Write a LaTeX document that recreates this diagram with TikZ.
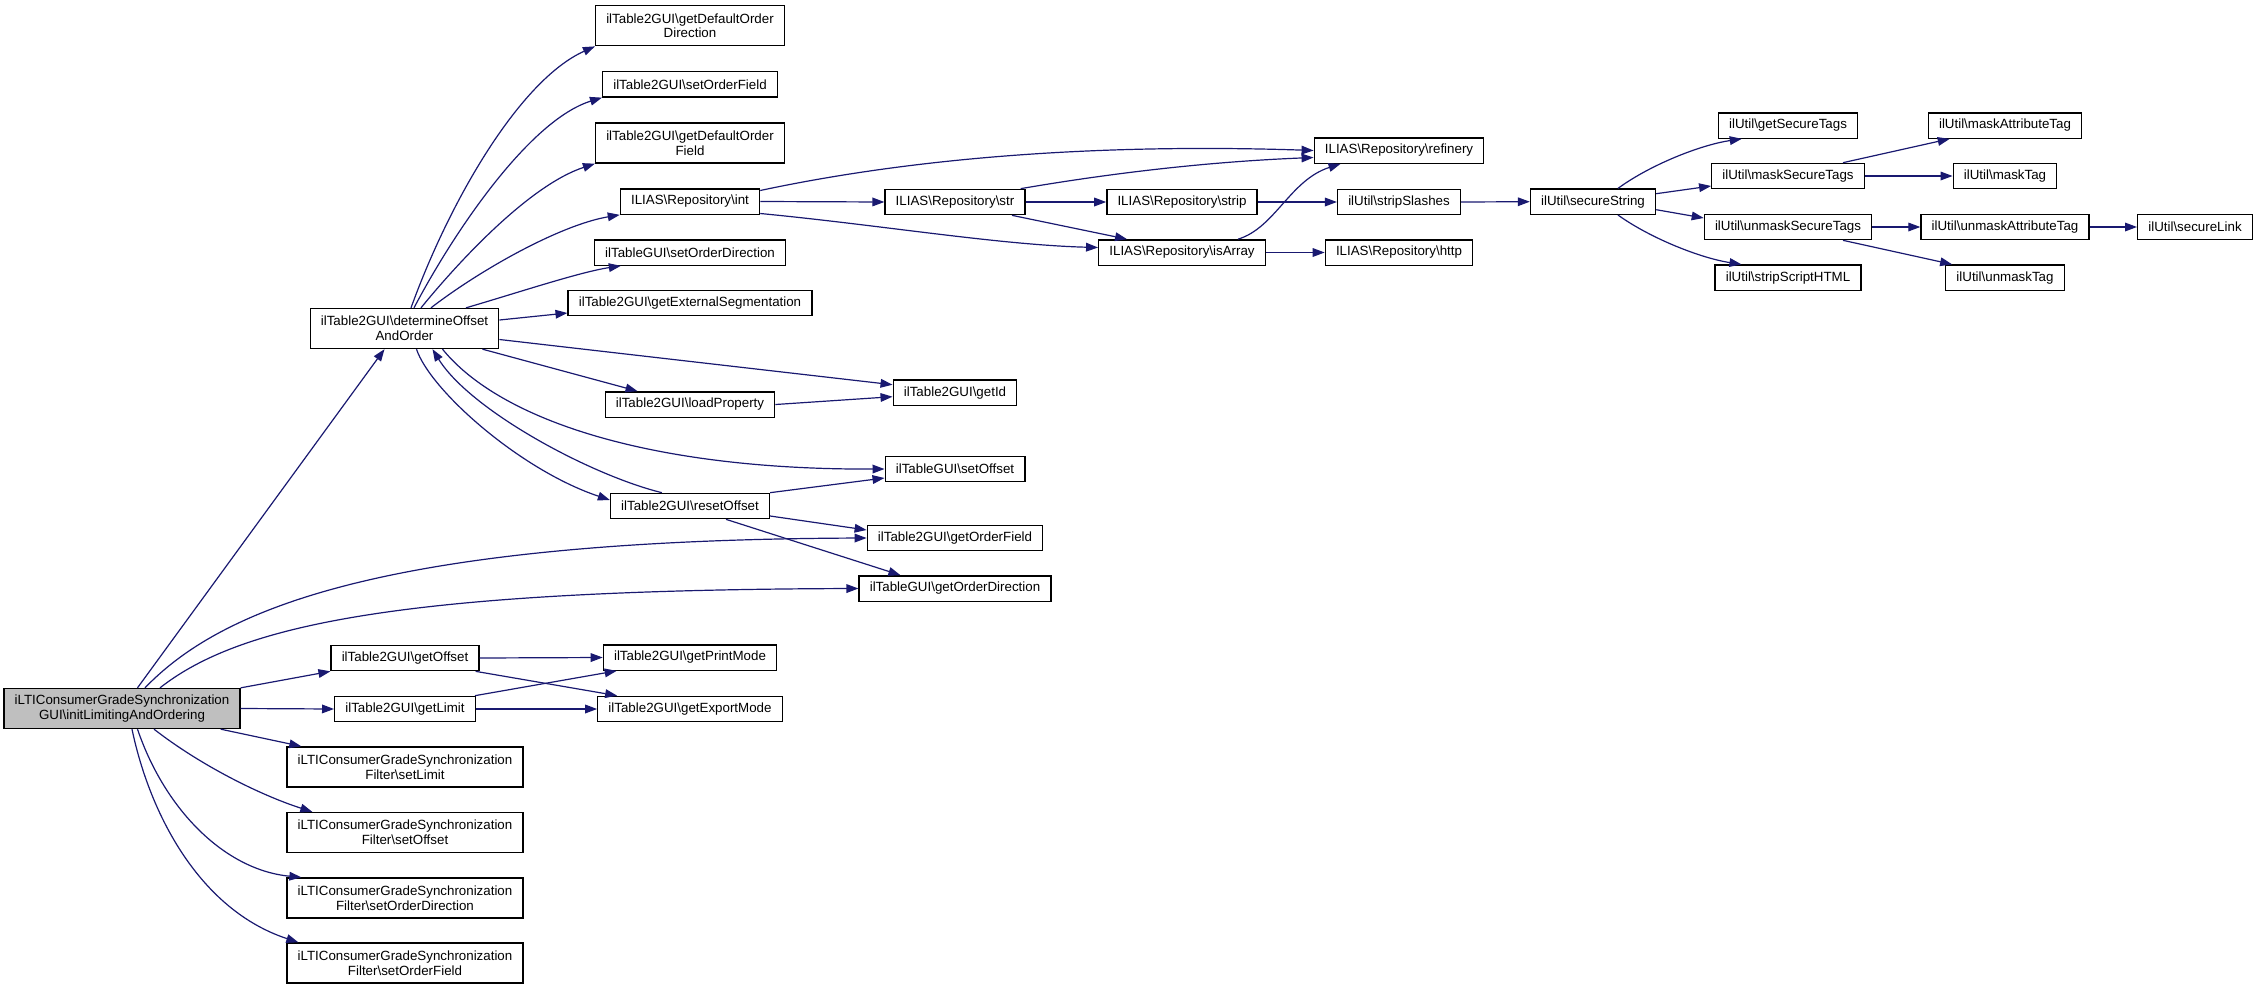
\documentclass[tikz,border=0pt]{standalone}
\usepackage{fontspec}
\setmainfont{Liberation Sans}
\usetikzlibrary{arrows.meta,calc}
\definecolor{callblue}{HTML}{191970}
\definecolor{rootgray}{HTML}{BFBFBF}
\newcommand{\bsl}{\textbackslash}
\tikzset{
	fn/.style={draw=black, line width=1pt, fill=white, font=\fontsize{10}{11}\selectfont, inner xsep=8pt, inner ysep=2pt, minimum height=19pt, align=center},
	fntwo/.style={fn, minimum height=30pt},
	callarrow/.style={draw=callblue, line width=0.9pt, -{Triangle[length=9pt,width=6.5pt]}}
}
\begin{document}
\begin{tikzpicture}[x=0.75pt, y=-0.75pt]
		\useasboundingbox (0,0) rectangle (2257,989);
		%caller
		\node[fntwo, fill=rootgray] (root) at (122,708.5) {iLTIConsumerGradeSynchronization\\GUI\bsl initLimitingAndOrdering};
		
		%second rank
		\node[fntwo] (det) at (404.5,328.5) {ilTable2GUI\bsl determineOffset\\AndOrder};
		\node[fn] (getoffset) at (405,658) {ilTable2GUI\bsl getOffset};
		\node[fn] (getlimit) at (405,709) {ilTable2GUI\bsl getLimit};
		\node[fntwo] (flimit) at (405,767) {iLTIConsumerGradeSynchronization\\Filter\bsl setLimit};
		\node[fntwo] (foffset) at (405,832.5) {iLTIConsumerGradeSynchronization\\Filter\bsl setOffset};
		\node[fntwo] (fodir) at (405,898) {iLTIConsumerGradeSynchronization\\Filter\bsl setOrderDirection};
		\node[fntwo] (fofield) at (405,963) {iLTIConsumerGradeSynchronization\\Filter\bsl setOrderField};
		
		%third rank
		\node[fntwo] (gdodir) at (690,25.7) {ilTable2GUI\bsl getDefaultOrder\\Direction};
		\node[fn] (sofield) at (690,84.3) {ilTable2GUI\bsl setOrderField};
		\node[fntwo] (gdofield) at (690,143) {ilTable2GUI\bsl getDefaultOrder\\Field};
		\node[fn] (rint) at (690,201.5) {ILIAS\bsl Repository\bsl int};
		\node[fn] (sodir) at (690,252.5) {ilTableGUI\bsl setOrderDirection};
		\node[fn] (gextseg) at (690,303) {ilTable2GUI\bsl getExternalSegmentation};
		\node[fn] (loadprop) at (690,404.5) {ilTable2GUI\bsl loadProperty};
		\node[fn] (reset) at (690,506) {ilTable2GUI\bsl resetOffset};
		\node[fn] (printmode) at (690,657.5) {ilTable2GUI\bsl getPrintMode};
		\node[fn] (exportmode) at (690,709) {ilTable2GUI\bsl getExportMode};
		
		%fourth rank
		\node[fn] (rstr) at (955,202) {ILIAS\bsl Repository\bsl str};
		\node[fn] (getid) at (955,392.7) {ilTable2GUI\bsl getId};
		\node[fn] (setoffset) at (955,469) {ilTableGUI\bsl setOffset};
		\node[fn] (gofield) at (955,538) {ilTable2GUI\bsl getOrderField};
		\node[fn] (godir) at (955,588.5) {ilTableGUI\bsl getOrderDirection};
		
		%repository and util
		\node[fn] (rstrip) at (1182,202) {ILIAS\bsl Repository\bsl strip};
		\node[fn] (isarray) at (1182,252.5) {ILIAS\bsl Repository\bsl isArray};
		\node[fn] (refinery) at (1399,150.5) {ILIAS\bsl Repository\bsl refinery};
		\node[fn] (stripslashes) at (1399,202) {ilUtil\bsl stripSlashes};
		\node[fn] (http) at (1399,252.5) {ILIAS\bsl Repository\bsl http};
		\node[fn] (securestring) at (1593,201.7) {ilUtil\bsl secureString};
		\node[fn] (getsecure) at (1788,125.5) {ilUtil\bsl getSecureTags};
		\node[fn] (masksecure) at (1788,176) {ilUtil\bsl maskSecureTags};
		\node[fn] (unmasksecure) at (1788,227) {ilUtil\bsl unmaskSecureTags};
		\node[fn] (stripscript) at (1788,277.7) {ilUtil\bsl stripScriptHTML};
		\node[fn] (maskattr) at (2005,125.5) {ilUtil\bsl maskAttributeTag};
		\node[fn] (masktag) at (2005,176) {ilUtil\bsl maskTag};
		\node[fn] (unmaskattr) at (2005,227) {ilUtil\bsl unmaskAttributeTag};
		\node[fn] (unmasktag) at (2005,277.7) {ilUtil\bsl unmaskTag};
		\node[fn] (securelink) at (2195,227) {ilUtil\bsl secureLink};
		
		%calls of the caller
		\draw[callarrow] ($(root.north)+(15.5,0)$) -- ($(det.south)+(-20,0)$);
		\draw[callarrow] ($(root.north)+(23,0)$) .. controls (220,610) and (380,540) .. (gofield.west);
		\draw[callarrow] ($(root.north)+(38,0)$) .. controls (240,625) and (400,590) .. (godir.west);
		\draw[callarrow] (root.north east) -- (getoffset.south west);
		\draw[callarrow] (root.east) -- (getlimit.west);
		\draw[callarrow] ($(root.south east)+(-20,0)$) -- ($(flimit.north west)+(15,0)$);
		\draw[callarrow] ($(root.south)+(32,0)$) .. controls (200,765) and (260,795) .. ($(foffset.north west)+(26,0)$);
		\draw[callarrow] ($(root.south)+(15.5,0)$) .. controls (165,810) and (225,870) .. ($(fodir.north west)+(15,0)$);
		\draw[callarrow] ($(root.south)+(10,0)$) .. controls (150,815) and (200,910) .. ($(fofield.north west)+(12,0)$);
		
		%determineOffsetAndOrder
		\draw[callarrow] ($(det.north)+(6.5,0)$) .. controls (450,200) and (520,80) .. (gdodir.south west);
		\draw[callarrow] ($(det.north)+(9.5,0)$) .. controls (455,230) and (530,120) .. (sofield.south west);
		\draw[callarrow] ($(det.north)+(16.5,0)$) .. controls (460,260) and (530,185) .. (gdofield.south west);
		\draw[callarrow] ($(det.north)+(26.5,0)$) .. controls (480,270) and (560,225) .. (rint.south west);
		\draw[callarrow] ($(det.north)+(61.5,0)$) .. controls (520,292) and (580,272) .. ($(sodir.south west)+(27,0)$);
		\draw[callarrow] ($(det.east)+(0,-8.5)$) -- ($(gextseg.west)+(0,10)$);
		\draw[callarrow] ($(det.east)+(0,11)$) -- ($(getid.west)+(0,-8)$);
		\draw[callarrow] ($(det.south east)+(-17,0)$) -- ($(loadprop.north west)+(33,0)$);
		\draw[callarrow] ($(det.south)+(12,0)$) .. controls (430,390) and (520,470) .. ($(reset.west)+(0,-6)$);
		\draw[callarrow] ($(reset.north west)+(52,0)$) .. controls (590,475) and (470,410) .. ($(det.south)+(28,0)$);
		\draw[callarrow] ($(det.south)+(38,0)$) .. controls (500,420) and (650,470) .. (setoffset.west);
		
		%resetOffset and loadProperty
		\draw[callarrow] (reset.north east) -- ($(setoffset.west)+(0,9)$);
		\draw[callarrow] ($(reset.east)+(0,10)$) -- ($(gofield.west)+(0,-8)$);
		\draw[callarrow] ($(reset.south)+(36,0)$) -- ($(godir.north west)+(42,0)$);
		\draw[callarrow] (loadprop.east) -- ($(getid.west)+(0,4)$);
		
		%repository calls
		\draw[callarrow] ($(rint.east)+(0,-11)$) .. controls (950,150) and (1150,145) .. (refinery.west);
		\draw[callarrow] (rint.east) -- (rstr.west);
		\draw[callarrow] ($(rint.east)+(0,12)$) .. controls (880,225) and (1000,245) .. ($(isarray.west)+(0,-5)$);
		\draw[callarrow] ($(rstr.north east)+(-5,0)$) .. controls (1100,175) and (1200,162) .. ($(refinery.west)+(0,7)$);
		\draw[callarrow] (rstr.east) -- (rstrip.west);
		\draw[callarrow] ($(rstr.south)+(57,0)$) -- ($(isarray.north west)+(29,0)$);
		\draw[callarrow] (rstrip.east) -- (stripslashes.west);
		\draw[callarrow] ($(isarray.north)+(56,0)$) .. controls (1275,228) and (1290,180) .. ($(refinery.south west)+(27,0)$);
		\draw[callarrow] (isarray.east) -- (http.west);
		\draw[callarrow] (stripslashes.east) -- (securestring.west);
		
		%util calls
		\draw[callarrow] ($(securestring.north)+(25,0)$) .. controls (1650,165) and (1700,145) .. ($(getsecure.south west)+(24,0)$);
		\draw[callarrow] ($(securestring.east)+(0,-8)$) -- ($(masksecure.west)+(0,10)$);
		\draw[callarrow] ($(securestring.east)+(0,8)$) -- ($(unmasksecure.west)+(0,-9)$);
		\draw[callarrow] ($(securestring.south)+(25,0)$) .. controls (1650,238) and (1700,258) .. ($(stripscript.north west)+(27,0)$);
		\draw[callarrow] ($(masksecure.north)+(55,0)$) -- ($(maskattr.south west)+(22,0)$);
		\draw[callarrow] (masksecure.east) -- (masktag.west);
		\draw[callarrow] (unmasksecure.east) -- (unmaskattr.west);
		\draw[callarrow] ($(unmasksecure.south)+(55,0)$) -- ($(unmasktag.north west)+(7,0)$);
		\draw[callarrow] (unmaskattr.east) -- (securelink.west);
		
		%getOffset and getLimit
		\draw[callarrow] (getoffset.east) -- (printmode.west);
		\draw[callarrow] ($(getoffset.south east)+(-4,0)$) -- ($(exportmode.north west)+(20,0)$);
		\draw[callarrow] ($(getlimit.north east)+(-1,0)$) -- ($(printmode.south west)+(14,0)$);
		\draw[callarrow] (getlimit.east) -- (exportmode.west);
\end{tikzpicture}
\end{document}
